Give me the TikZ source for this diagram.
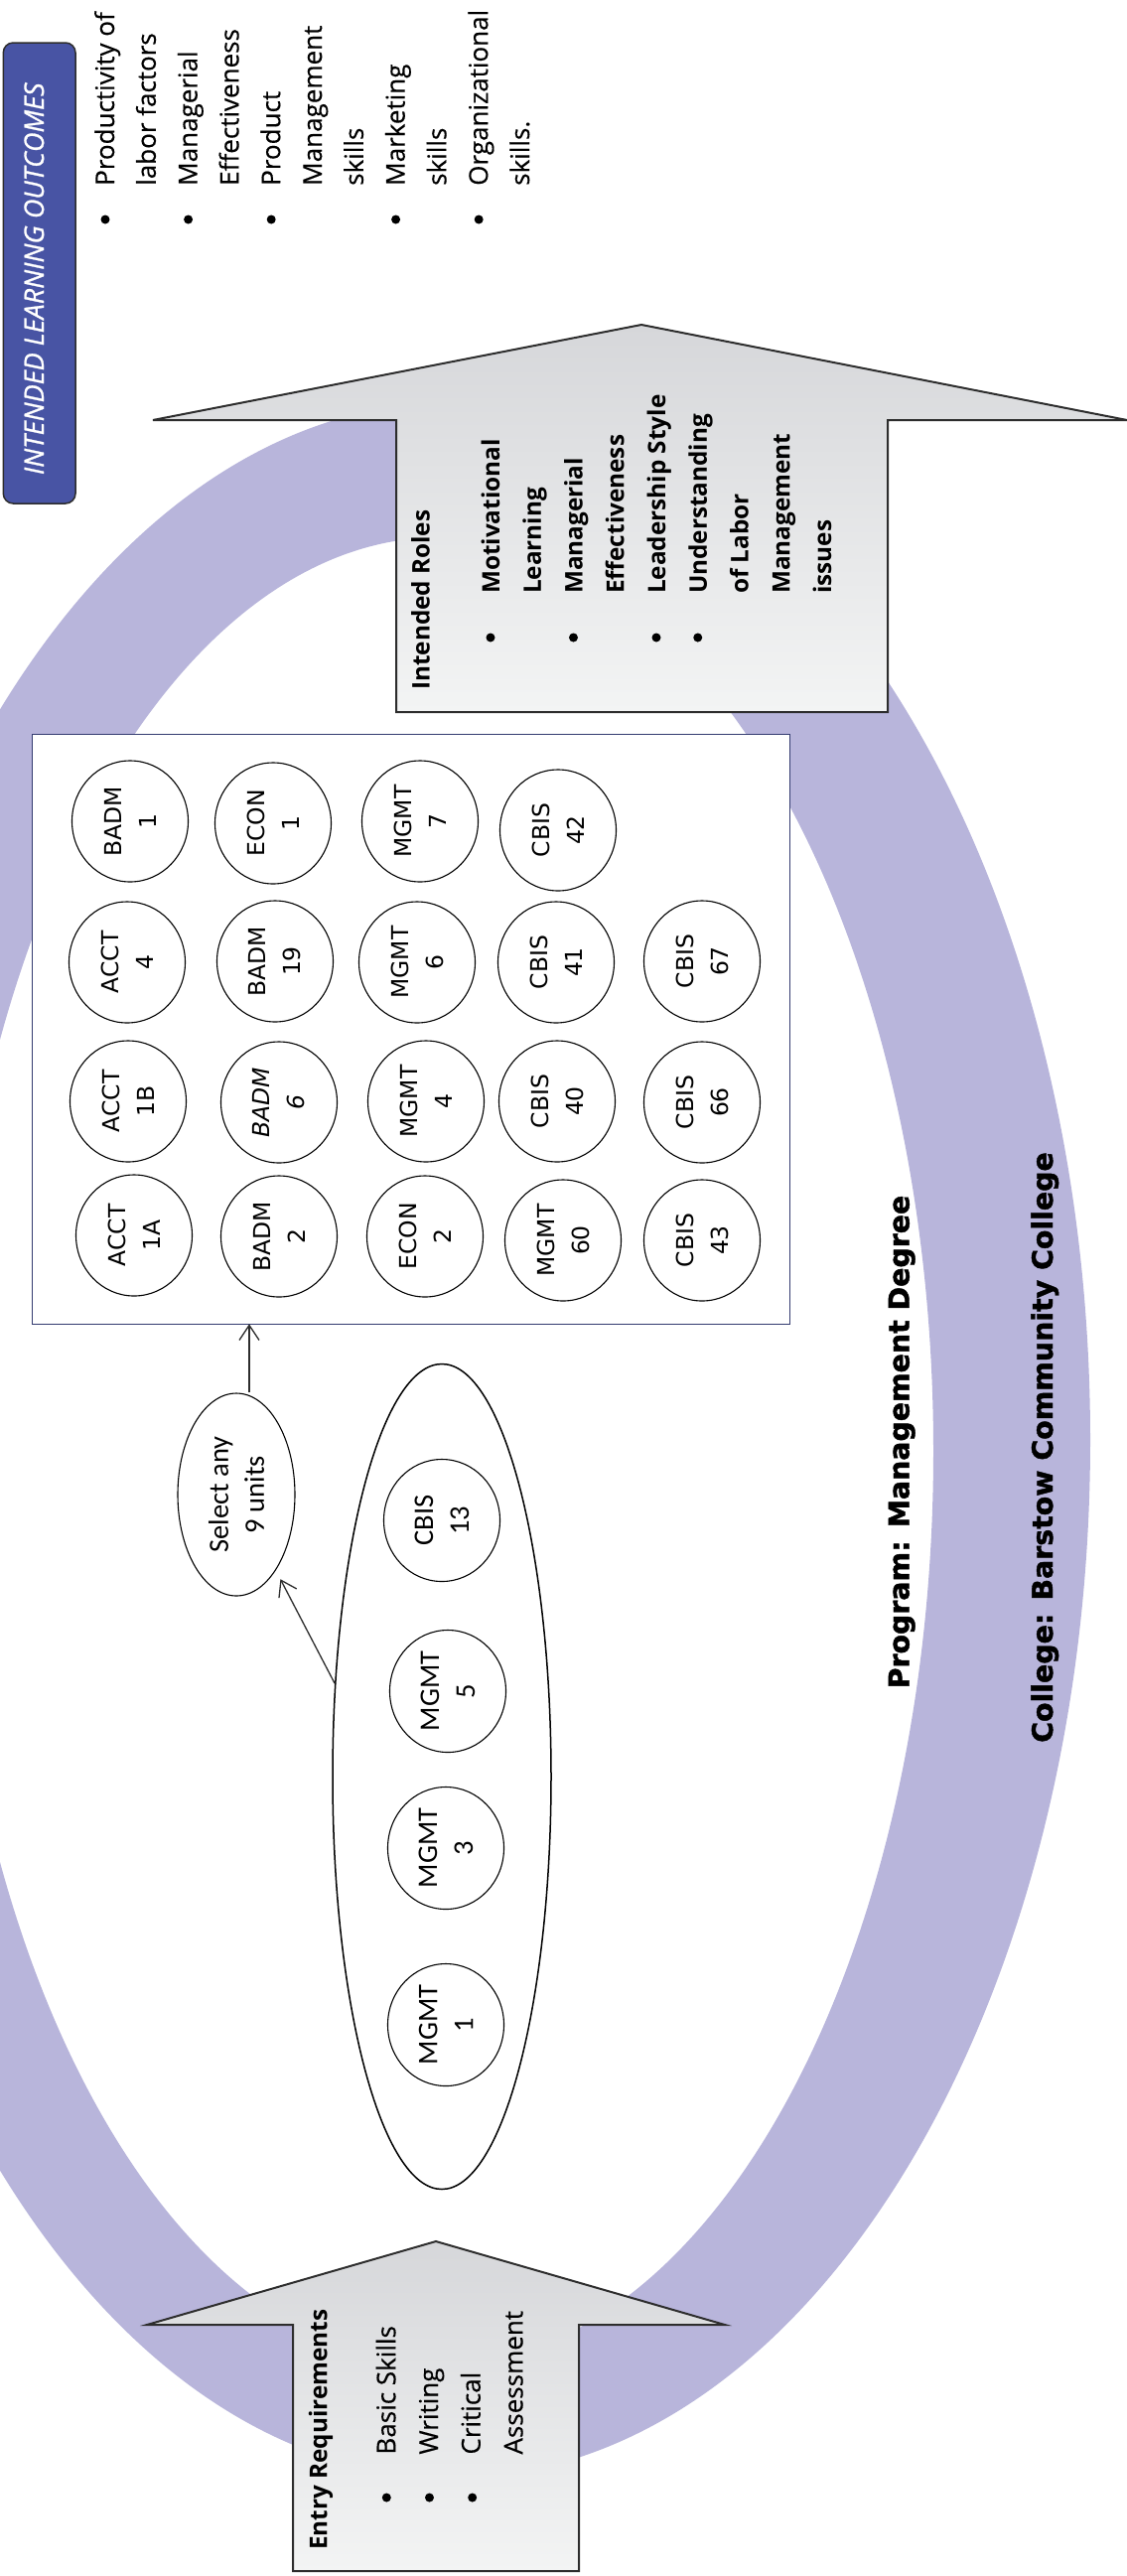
\documentclass[tikz,border=0pt]{standalone}
\usepackage{fontspec}
\setmainfont{Open Sans}[UprightFeatures={FakeBold=0.4}, ItalicFeatures={FakeBold=1}]
\newfontfamily\carlito{Carlito}
\newfontfamily\dejavu{DejaVu Sans}
\newfontfamily\heavyfont{DejaVu Sans Bold}[FakeBold=1.5]
\usetikzlibrary{shapes.geometric,arrows.meta}

\definecolor{ringpurple}{RGB}{184,181,219}
\definecolor{arrowtop}{RGB}{214,215,218}
\definecolor{arrowbot}{RGB}{243,244,244}
\definecolor{outline}{RGB}{45,45,45}
\definecolor{labelblue}{RGB}{72,84,164}
\definecolor{poolborder}{RGB}{52,60,112}

\tikzset{
  arrowbody/.style={top color=arrowtop, bottom color=arrowbot, draw=outline,
    line width=2pt, line join=miter},
  vline/.style={rotate=90, anchor=base west, inner sep=0pt,
    font=\fontsize{26pt}{35pt}\selectfont},
  vbold/.style={vline, font=\fontsize{24.3pt}{35pt}\selectfont\bfseries},
  dot/.style={circle, fill=black, inner sep=0pt, minimum size=9pt},
  course/.style={ellipse, draw=black, line width=1.1pt, fill=white, rotate=90,
    minimum width=122pt, minimum height=117pt, inner sep=0pt, align=center,
    font=\dejavu\fontsize{23.5pt}{35pt}\selectfont},
  corecourse/.style={ellipse, draw=black, line width=1.1pt, fill=white, rotate=90,
    minimum width=123pt, minimum height=117pt, inner sep=0pt, align=center,
    font=\carlito\fontsize{28.5pt}{36pt}\selectfont},
  conn/.style={draw=outline, line width=1.3pt,
    -{Straight Barb[length=15pt,width=20pt,line width=1.3pt]}},
  headline/.style={rotate=90, anchor=base, inner sep=0pt,
    font=\heavyfont\fontsize{28.4pt}{34pt}\selectfont},
}

\begin{document}
\begin{tikzpicture}[x=1pt,y=-1pt]
\useasboundingbox (0,0) rectangle (1135,2594);

% purple ring behind everything
\begin{scope}
  \clip (0,0) rectangle (1135,2594);
  \fill[ringpurple, even odd rule]
    (456,1450) ellipse [x radius=642pt, y radius=1045pt]
    (443.5,1461) ellipse [x radius=496.5pt, y radius=920pt];
\end{scope}

% elective pool
\node[draw=poolborder, line width=1.3pt, fill=white, minimum width=763pt,
      minimum height=594pt, inner sep=0pt] (pool) at (414.1,1036.2) {};

\node[course] (badm1)  at (131,827)  {BADM\\1};
\node[course] (econ1)  at (275,829)  {ECON\\1};
\node[course] (mgmt7)  at (423,827)  {MGMT\\7};
\node[course] (cbis42) at (562,836)  {CBIS\\42};

\node[course] (acct4)  at (128,969)  {ACCT\\4};
\node[course] (badm19) at (277,968)  {BADM\\19};
\node[course] (mgmt6)  at (420,969)  {MGMT\\6};
\node[course] (cbis41) at (560,969)  {CBIS\\41};
\node[course] (cbis67) at (707,968)  {CBIS\\67};

\node[course] (acct1b) at (129,1109) {ACCT\\1B};
\node[course, font=\dejavu\itshape\fontsize{23.5pt}{35pt}\selectfont]
              (badm6)  at (281,1110) {BADM\\6};
\node[course] (mgmt4)  at (429,1109) {MGMT\\4};
\node[course] (cbis40) at (561,1109) {CBIS\\40};
\node[course] (cbis66) at (707,1110) {CBIS\\66};

\node[course] (acct1a) at (135,1244) {ACCT\\1A};
\node[course] (badm2)  at (281,1245) {BADM\\2};
\node[course] (econ2)  at (428,1245) {ECON\\2};
\node[course] (mgmt60) at (567,1249) {MGMT\\60};
\node[course] (cbis43) at (707,1249) {CBIS\\43};

% core courses
\node[ellipse, draw=black, line width=1.5pt, fill=white, minimum width=220pt,
      minimum height=831pt, inner sep=0pt] (hub) at (445,1789) {};
\node[corecourse] (cbis13) at (445,1531) {CBIS\\13};
\node[corecourse] (mgmt5)  at (451,1703) {MGMT\\5};
\node[corecourse] (mgmt3)  at (449,1861) {MGMT\\3};
\node[corecourse] (mgmt1)  at (449,2039) {MGMT\\1};

% selection note and connectors
\node[corecourse, minimum width=204pt, minimum height=118pt] (sel) at (238,1505)
      {Select any\\9 units};
\coordinate (tip) at (251,1333.3);
\draw[conn] (tip |- sel.east) -- (tip);
\draw[conn, shorten >=10pt] (hub.139) -- (sel);

% roles arrow
\draw[arrowbody] (399,717) -- (399,423) -- (154,423) -- (646,327) -- (1135,423)
  -- (894,423) -- (894,717) -- cycle;
\node[vbold] (rolesT) at (432.7,695) {Intended Roles};
\foreach \t [count=\k from 0] in {Motivational, Learning, Managerial, Effectiveness,
    Leadership Style, Understanding, of Labor, Management, issues}
  \node[vbold] (role\k) at (503+41.75*\k,598) {\t};
\foreach \k in {0,2,4,5}
  \node[dot] (roleb\k) at (494+41.75*\k,642) {};

% entry arrow
\draw[arrowbody] (295,2589) -- (295,2341) -- (148,2341) -- (439,2257) -- (730,2341)
  -- (583,2341) -- (583,2589) -- cycle;
\node[vbold] (entryT) at (329.3,2568) {Entry Requirements};
\foreach \t [count=\k from 0] in {Basic Skills, Writing, Critical, Assessment}
  \node[vline] (entry\k) at (398.3+42.7*\k,2471.7) {\t};
\foreach \k in {0,1,2}
  \node[dot] (entryb\k) at (389.3+43.2*\k,2515) {};

% learning outcomes
\node[draw=outline, line width=1.5pt, fill=labelblue, rounded corners=10pt,
      minimum width=72.7pt, minimum height=464pt, inner sep=0pt] (ilobox) at (39.65,275) {};
\node[rotate=90, anchor=base, inner sep=0pt, text=white,
      font=\itshape\fontsize{27pt}{35pt}\selectfont] (ilo) at (44,280.8)
      {INTENDED LEARNING OUTCOMES};
\foreach \t [count=\k from 0] in {Productivity of, labor factors, Managerial,
    Effectiveness, Product, Management, skills, Marketing, skills, Organizational, skills.}
  \node[vline] (out\k) at (115+41.8*\k,187) {\t};
\foreach \k in {0,2,4,7,9}
  \node[dot] (outb\k) at (106+41.8*\k,221) {};

% program and college titles
\node[headline] (prog) at (915.5,1452) {Program: Management Degree};
\node[headline] (coll) at (1060,1457.5) {College: Barstow Community College};
\end{tikzpicture}
\end{document}
